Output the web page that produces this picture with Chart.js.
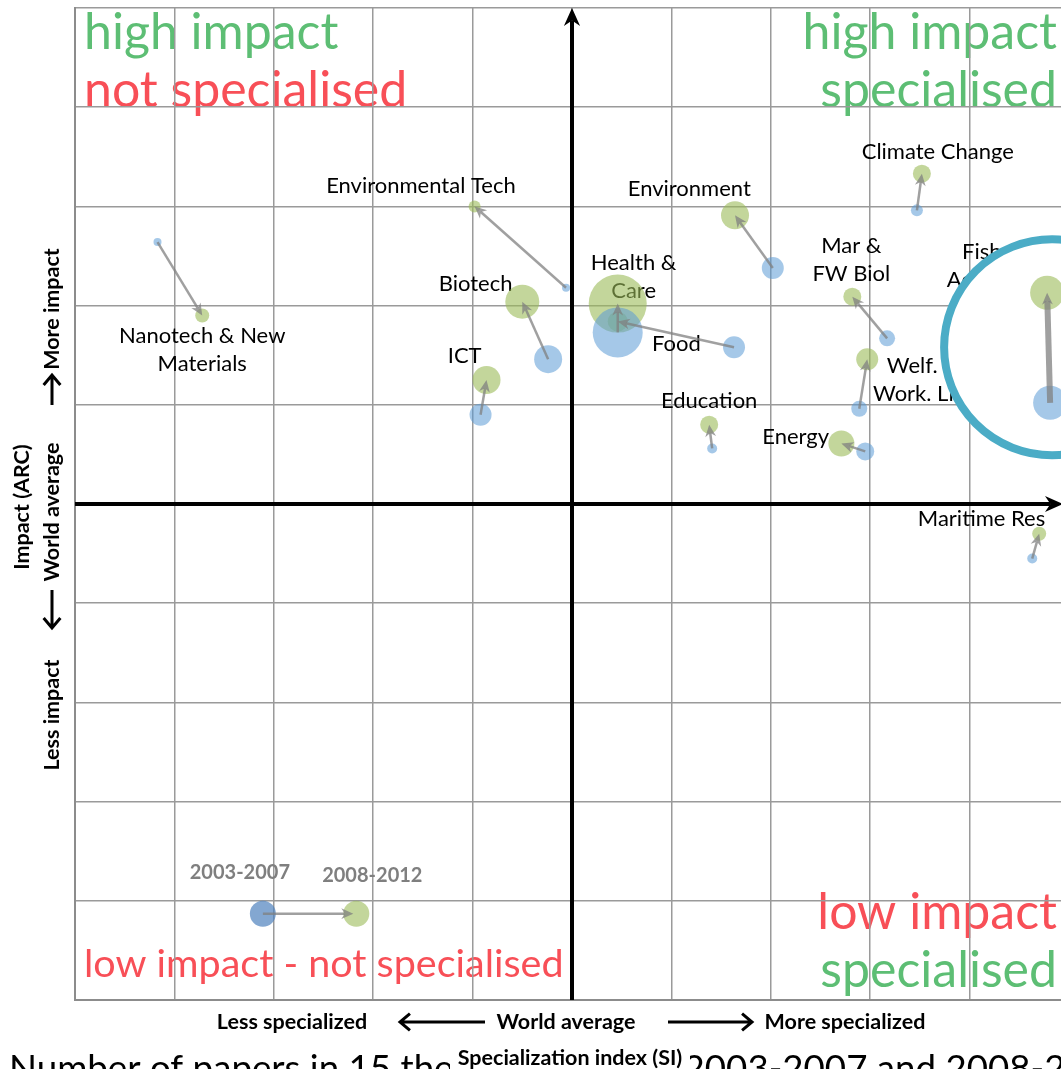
<!DOCTYPE html>
<html>
<head>
<meta charset="utf-8">
<script src="https://cdn.jsdelivr.net/npm/chart.js@4.4.1/dist/chart.umd.min.js"></script>
<style>
  html, body { margin: 0; padding: 0; background: #fff; overflow: hidden; width: 1061px; height: 1069px; }
  #wrap { position: absolute; left: 0; top: 0; width: 1080px; height: 1069px; }
</style>
</head>
<body>
<div id="wrap"><canvas id="myChart"></canvas></div>
<script>
// thematic areas, specialization index (SI) and impact (ARC), bubble size ~ number of papers
const areas = ['Nanotech & New Materials', 'Environmental Tech', 'Biotech', 'ICT', 'Health & Care', 'Food',
  'Environment', 'Climate Change', 'Mar & FW Biol', 'Welf. & Work. Life', 'Education', 'Energy', 'Maritime Res', 'Fish & Aquacult.'];
const si2003   = [-4.17, -0.06, -0.24, -0.92, 0.46, 1.63, 2.02, 3.47, 3.17, 2.89, 1.41, 2.95, 4.63, 4.81];
const arc2003  = [2.64, 2.18, 1.46, 0.90, 1.73, 1.58, 2.38, 2.96, 1.67, 0.96, 0.56, 0.53, -0.55, 1.02];
const size2003 = [4, 4, 14, 11, 25, 11, 11, 6, 8, 8, 5, 9, 5, 17];
const si2008   = [-3.72, -0.98, -0.50, -0.86, 0.46, 0.46, 1.64, 3.52, 2.82, 2.97, 1.38, 2.71, 4.70, 4.78];
const arc2008  = [1.90, 3.00, 2.04, 1.25, 2.02, 1.84, 2.91, 3.33, 2.09, 1.46, 0.80, 0.61, -0.30, 2.13];
const size2008 = [7, 6, 17, 14, 29, 10, 14, 9, 9, 11, 9, 13, 7, 17];

const periods = ['2003-2007', '2008-2012'];
const legendSI = [-3.11, -2.17];
const legendARC = [-4.13, -4.13];

// label anchors (chart units), one or two lines each
const labelLines = [['Nanotech & New', 'Materials'], ['Environmental Tech'], ['Biotech'], ['ICT'], ['Health &', 'Care'], ['Food'],
  ['Environment'], ['Climate Change'], ['Mar &', 'FW Biol'], ['Welf. &', 'Work. Life'], ['Education'], ['Energy'], ['Maritime Res'], ['Fish &', 'Aquacult.']];
const labelX = [-3.72, -1.52, -0.97, -1.08, 0.62, 1.05, 1.18, 3.68, 2.81, 3.53, 1.38, 2.25, 4.12, 4.23];
const labelY = [1.55, 3.21, 2.22, 1.49, 2.29, 1.61, 3.18, 3.55, 2.46, 1.25, 1.04, 0.68, -0.15, 2.40];

const blue = 'rgba(91,155,213,0.55)';
const green = 'rgba(155,187,89,0.6)';

function bubbles(xs, ys, rs) {
  return xs.map((v, i) => ({ x: v, y: ys[i], r: rs[i] }));
}

function arrow(ctx, x1, y1, x2, y2, w, head, color) {
  const a = Math.atan2(y2 - y1, x2 - x1);
  ctx.save();
  ctx.strokeStyle = color;
  ctx.fillStyle = color;
  ctx.lineWidth = w;
  ctx.beginPath();
  ctx.moveTo(x1, y1);
  ctx.lineTo(x2 - Math.cos(a) * head * 0.7, y2 - Math.sin(a) * head * 0.7);
  ctx.stroke();
  ctx.beginPath();
  ctx.moveTo(x2, y2);
  ctx.lineTo(x2 - Math.cos(a) * head + Math.sin(a) * head * 0.45, y2 - Math.sin(a) * head - Math.cos(a) * head * 0.45);
  ctx.lineTo(x2 - Math.cos(a) * head * 0.7, y2 - Math.sin(a) * head * 0.7);
  ctx.lineTo(x2 - Math.cos(a) * head - Math.sin(a) * head * 0.45, y2 - Math.sin(a) * head + Math.cos(a) * head * 0.45);
  ctx.closePath();
  ctx.fill();
  ctx.restore();
}

function openArrow(ctx, x1, y1, x2, y2) {
  const a = Math.atan2(y2 - y1, x2 - x1);
  ctx.save();
  ctx.strokeStyle = '#000';
  ctx.lineWidth = 3;
  ctx.beginPath();
  ctx.moveTo(x1, y1);
  ctx.lineTo(x2, y2);
  ctx.moveTo(x2 - Math.cos(a - 0.7) * 13, y2 - Math.sin(a - 0.7) * 13);
  ctx.lineTo(x2, y2);
  ctx.lineTo(x2 - Math.cos(a + 0.7) * 13, y2 - Math.sin(a + 0.7) * 13);
  ctx.stroke();
  ctx.restore();
}

function txt(ctx, s, x, y, font, color, align) {
  ctx.font = font;
  ctx.fillStyle = color;
  ctx.textAlign = align || 'center';
  ctx.textBaseline = 'alphabetic';
  ctx.fillText(s, x, y);
}

const quadrantText = {
  id: 'quadrantText',
  beforeDraw(chart) {
    const ctx = chart.ctx;
    const g = '#5dbe74', r = '#f84f57';
    txt(ctx, 'high impact', 84, 49, '50px Lato', g, 'left');
    txt(ctx, 'not specialised', 84, 107, '50px Lato', r, 'left');
    txt(ctx, 'high impact', 1057, 49, '50px Lato', g, 'right');
    txt(ctx, 'specialised', 1057, 107, '50px Lato', g, 'right');
    txt(ctx, 'low impact', 1057, 929, '50px Lato', r, 'right');
    txt(ctx, 'specialised', 1057, 987, '50px Lato', g, 'right');
    txt(ctx, 'low impact - not specialised', 84, 977, '39.5px Lato', r, 'left');
  }
};

const overlay = {
  id: 'overlay',
  beforeDatasetsDraw(chart) {
    const ctx = chart.ctx;
    const xs = chart.scales.x, ys = chart.scales.y;
    const x0 = xs.getPixelForValue(0), y0 = ys.getPixelForValue(0);

    // thick axes with arrow heads
    arrow(ctx, xs.left, y0, xs.right - 6, y0, 4, 18, '#000');
    arrow(ctx, x0, ys.bottom, x0, ys.top, 4, 18, '#000');

    // area labels
    labelLines.forEach((lines, i) => {
      const lx = xs.getPixelForValue(labelX[i]);
      const ly = ys.getPixelForValue(labelY[i]);
      lines.forEach((s, k) => {
        txt(ctx, s, lx, ly + 7 + (k - (lines.length - 1) / 2) * 28, '22px Lato', '#000');
      });
    });

    // magnifier circle
    ctx.save();
    ctx.beginPath();
    ctx.arc(xs.getPixelForValue(4.83), ys.getPixelForValue(1.58), 108, 0, Math.PI * 2);
    ctx.fillStyle = '#fff';
    ctx.fill();
    ctx.lineWidth = 8;
    ctx.strokeStyle = '#4bacc6';
    ctx.stroke();
    ctx.restore();

    // legend labels
    const legOff = [-23, 16];
    periods.forEach((p, i) => {
      txt(ctx, p, xs.getPixelForValue(legendSI[i]) + legOff[i], ys.getPixelForValue(legendARC[i]) - 35 + i * 3, 'bold 20px Lato', '#7f7f7f');
    });

    // axis titles
    const bf = 'bold 21.5px Lato';
    txt(ctx, 'Less specialized', 292, 1029, bf, '#000');
    openArrow(ctx, 485, 1022, 400, 1022);
    txt(ctx, 'World average', 566, 1029, bf, '#000');
    openArrow(ctx, 668, 1022, 752, 1022);
    txt(ctx, 'More specialized', 845, 1029, bf, '#000');

    txt(ctx, 'Number of papers in 15 thematic areas in 2003-2007 and 2008-2012', 9, 1081, '36.7px Lato', '#000', 'left');
    ctx.fillStyle = '#fff';
    ctx.fillRect(450, 1045, 240, 24);
    txt(ctx, 'Specialization index (SI)', 570, 1065, bf, '#000');

    ctx.save();
    ctx.translate(22, 507);
    ctx.rotate(-Math.PI / 2);
    txt(ctx, 'Impact (ARC)', 0, 7, bf, '#000');
    ctx.restore();

    ctx.save();
    ctx.translate(52, 0);
    ctx.rotate(-Math.PI / 2);
    txt(ctx, 'More impact', -309, 7, bf, '#000');
    txt(ctx, 'World average', -512, 7, bf, '#000');
    txt(ctx, 'Less impact', -715, 7, bf, '#000');
    ctx.restore();
    openArrow(ctx, 52, 405, 52, 375);
    openArrow(ctx, 52, 590, 52, 628);
  },
  afterDatasetsDraw(chart) {
    const ctx = chart.ctx;
    const xs = chart.scales.x, ys = chart.scales.y;
    si2003.forEach((v, i) => {
      const w = i === si2003.length - 1 ? 6 : 2.5;
      arrow(ctx, xs.getPixelForValue(v), ys.getPixelForValue(arc2003[i]),
        xs.getPixelForValue(si2008[i]), ys.getPixelForValue(arc2008[i]), w, 12, 'rgba(128,128,128,0.75)');
    });
    arrow(ctx, xs.getPixelForValue(legendSI[0]), ys.getPixelForValue(legendARC[0]),
      xs.getPixelForValue(legendSI[1]) - 3, ys.getPixelForValue(legendARC[1]), 2.5, 12, 'rgba(128,128,128,0.75)');
  }
};

const ctx = document.getElementById('myChart').getContext('2d');
const myChart = new Chart(ctx, {
  type: 'bubble',
  data: {
    datasets: [
      {
        label: 'legend',
        data: bubbles(legendSI, legendARC, [13, 13]),
        backgroundColor: ['rgba(79,129,189,0.7)', 'rgba(155,187,89,0.6)'],
        borderWidth: 0
      },
      {
        label: periods[0],
        data: bubbles(si2003, arc2003, size2003),
        backgroundColor: blue,
        borderWidth: 0
      },
      {
        label: periods[1],
        data: bubbles(si2008, arc2008, size2008),
        backgroundColor: green,
        borderWidth: 0
      }
    ]
  },
  options: {
    responsive: true,
    maintainAspectRatio: false,
    animation: false,
    events: [],
    layout: { autoPadding: false, padding: { left: 75, top: 8, right: 11, bottom: 69 } },
    plugins: { legend: { display: false }, tooltip: { enabled: false } },
    scales: {
      x: {
        type: 'linear', min: -5, max: 5,
        ticks: { display: false, stepSize: 1 },
        grid: { color: '#9a9a9a', lineWidth: 1.5, drawTicks: false },
        border: { color: '#8c8c8c', width: 2 }
      },
      y: {
        type: 'linear', min: -5, max: 5,
        ticks: { display: false, stepSize: 1 },
        grid: { color: '#9a9a9a', lineWidth: 1.5, drawTicks: false },
        border: { color: '#8c8c8c', width: 2 }
      }
    }
  },
  plugins: [quadrantText, overlay]
});
</script>
</body>
</html>
